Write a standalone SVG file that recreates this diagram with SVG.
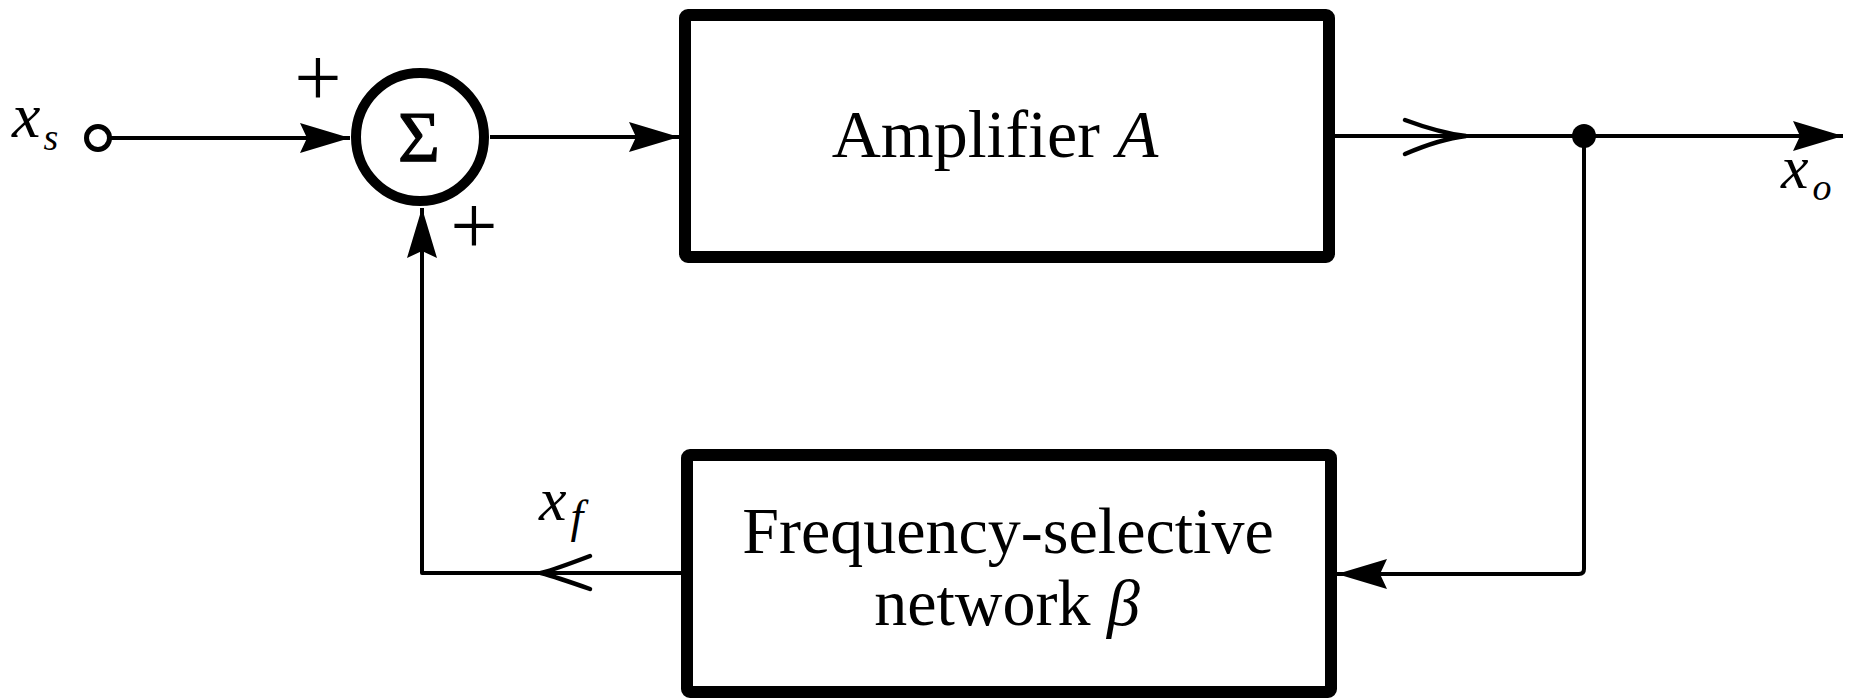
<svg xmlns="http://www.w3.org/2000/svg" width="1851" height="698" viewBox="0 0 1851 698">
  <style>
    .box { fill: #fff; stroke: #000; stroke-width: 12; }
    .wire { fill: none; stroke: #000; stroke-width: 4; stroke-linejoin: round; }
    .chev { fill: none; stroke: #000; stroke-width: 4.5; stroke-linecap: round; }
    .lbl { font-family: "Liberation Serif", "Times New Roman", serif; fill: #000; }
    .it { font-style: italic; }
  </style>
  <defs>
    <marker id="arr" viewBox="0 0 50 30" refX="50" refY="15" markerWidth="50" markerHeight="30" markerUnits="userSpaceOnUse" orient="auto">
      <path d="M0,0 L50,15 L0,30 L7,15 Z" fill="#000"/>
    </marker>
  </defs>
  <rect width="1851" height="698" fill="#fff"/>

  <g id="connectors">
    <path class="wire" d="M110,138 L350,138" marker-end="url(#arr)"/>
    <path class="wire" d="M490,137 L679,137" marker-end="url(#arr)"/>
    <path class="wire" d="M1335,136 L1843,136" marker-end="url(#arr)"/>
    <path class="wire" d="M1584,136 L1584,569 Q1584,574 1579,574 L1337,574" marker-end="url(#arr)"/>
    <path class="wire" d="M682,573 L422,573 L422,208" marker-end="url(#arr)"/>
    <path class="chev" d="M1405,120 Q1440,133 1466,136 Q1440,139 1405,154"/>
    <path class="chev" d="M590,556 Q556,569 541,573 Q556,577 590,589"/>
    <circle cx="1584" cy="136" r="12" fill="#000"/>
  </g>

  <g id="input">
    <circle cx="98" cy="138" r="11.5" fill="#fff" stroke="#000" stroke-width="5"/>
    <text class="lbl" x="12" y="137" font-size="64"><tspan class="it">x</tspan><tspan class="it" font-size="38" dx="3" dy="13">s</tspan></text>
  </g>

  <g id="sum">
    <circle cx="420" cy="137" r="64" fill="#fff" stroke="#000" stroke-width="10"/>
    <text class="lbl" x="419" y="161" font-size="72" text-anchor="middle" stroke="#000" stroke-width="1.2">Σ</text>
    <text class="lbl" x="318" y="106" font-size="84" text-anchor="middle">+</text>
    <text class="lbl" x="474" y="254" font-size="84" text-anchor="middle">+</text>
  </g>

  <g id="amplifier">
    <rect class="box" x="685" y="15" width="644" height="242" rx="3"/>
    <text class="lbl" x="995" y="157" font-size="68" text-anchor="middle">Amplifier <tspan class="it">A</tspan></text>
  </g>

  <g id="beta">
    <rect class="box" x="687" y="455" width="644" height="237" rx="3"/>
    <text class="lbl" x="1008" y="553" font-size="66" text-anchor="middle">Frequency-selective</text>
    <text class="lbl" x="1007" y="625" font-size="66" text-anchor="middle">network <tspan class="it">β</tspan></text>
  </g>

  <g id="output">
    <text class="lbl" x="1781" y="188" font-size="62"><tspan class="it">x</tspan><tspan class="it" font-size="38" dx="4" dy="12">o</tspan></text>
  </g>

  <g id="feedback-label">
    <text class="lbl" x="539" y="520" font-size="62"><tspan class="it">x</tspan><tspan class="it" font-size="46" dx="4" dy="12">f</tspan></text>
  </g>
</svg>
